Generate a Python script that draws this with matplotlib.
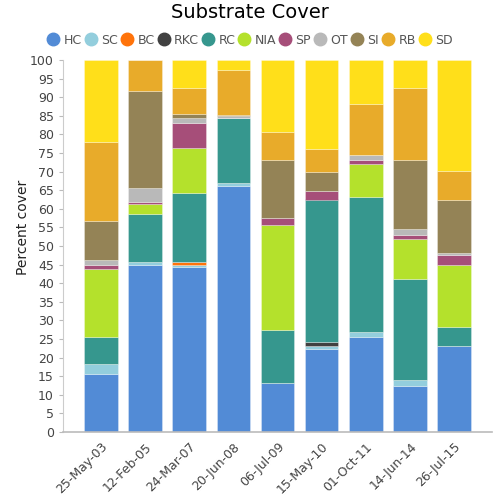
import numpy as np
import matplotlib
matplotlib.use("Agg")
import matplotlib.pyplot as plt
from matplotlib.lines import Line2D

dates = ["25-May-03", "12-Feb-05", "24-Mar-07", "20-Jun-08", "06-Jul-09",
         "15-May-10", "01-Oct-11", "14-Jun-14", "26-Jul-15"]

# percent cover per substrate class, one value per survey date
HC = [15.7, 44.9, 44.4, 66.2, 13.1, 22.3, 25.6, 12.5, 23.1]
SC = [2.5, 0.7, 0.4, 0.8, 0.0, 0.8, 1.3, 1.4, 0.0]
BC = [0.0, 0.0, 0.8, 0.0, 0.0, 0.0, 0.0, 0.0, 0.0]
RKC = [0.0, 0.0, 0.0, 0.0, 0.0, 1.2, 0.0, 0.0, 0.0]
RC = [7.3, 13.0, 18.7, 17.3, 14.4, 38.2, 36.2, 27.2, 5.0]
NIA = [18.2, 2.7, 12.0, 0.0, 28.1, 0.0, 8.9, 10.9, 16.9]
SP = [1.2, 0.5, 6.8, 0.0, 1.8, 2.4, 1.1, 1.0, 2.5]
OT = [1.3, 3.9, 1.3, 0.6, 0.0, 0.0, 1.3, 1.5, 0.6]
SI = [10.6, 26.1, 1.2, 0.3, 15.7, 5.1, 0.0, 18.6, 14.4]
RB = [21.2, 8.2, 7.0, 12.2, 7.5, 6.2, 13.7, 19.5, 7.6]
SD = [22.0, 0.0, 7.4, 2.6, 19.4, 23.8, 11.9, 7.4, 29.9]

series = [("HC", HC, "#528bd6"), ("SC", SC, "#93cedd"), ("BC", BC, "#ff730a"),
          ("RKC", RKC, "#414141"), ("RC", RC, "#36978e"), ("NIA", NIA, "#b4e12c"),
          ("SP", SP, "#a64e79"), ("OT", OT, "#b9b9b9"), ("SI", SI, "#948356"),
          ("RB", RB, "#e8ab2a"), ("SD", SD, "#ffdf1a")]

fig = plt.figure(figsize=(5, 5), dpi=100)
ax = fig.add_axes([0.126, 0.136, 0.858, 0.744])

x = np.arange(len(dates))
bottom = np.zeros(len(dates))
for name, vals, color in series:
    vals = np.array(vals)
    ax.bar(x, vals, 0.76, bottom=bottom, color=color,
           edgecolor=(1, 1, 1, 0.35), linewidth=0.6)
    bottom += vals

ax.set_xlim(-0.86, 8.86)
ax.set_ylim(0, 100)
ax.set_yticks(np.arange(0, 101, 5))
ax.set_xticks(x)
ax.set_xticklabels(dates, rotation=45, ha="right", rotation_mode="anchor")
ax.tick_params(axis="x", length=0, labelsize=9, colors="#444444", pad=6)
ax.tick_params(axis="y", length=3, labelsize=9, colors="#bbbbbb",
               labelcolor="#444444")
for s in ["top", "right"]:
    ax.spines[s].set_visible(False)
ax.spines["left"].set_color("#cccccc")
ax.spines["bottom"].set_color("#bbbbbb")
ax.spines["bottom"].set_linewidth(1.2)
ax.set_ylabel("Percent cover", fontsize=10, color="#222222")
ax.yaxis.set_label_coords(-0.078, 0.55)

fig.suptitle("Substrate Cover", fontsize=14, y=0.995)

handles = [Line2D([], [], marker="o", linestyle="", markersize=9,
                  markerfacecolor=c, markeredgecolor=c) for _, _, c in series]
fig.legend(handles, [n for n, _, _ in series], loc="center",
           bbox_to_anchor=(0.5, 0.92), ncol=11, frameon=False, fontsize=9,
           handletextpad=0.35, columnspacing=0.2, handlelength=1.0,
           labelcolor="#555555")

fig.savefig("out.png", dpi=100)
